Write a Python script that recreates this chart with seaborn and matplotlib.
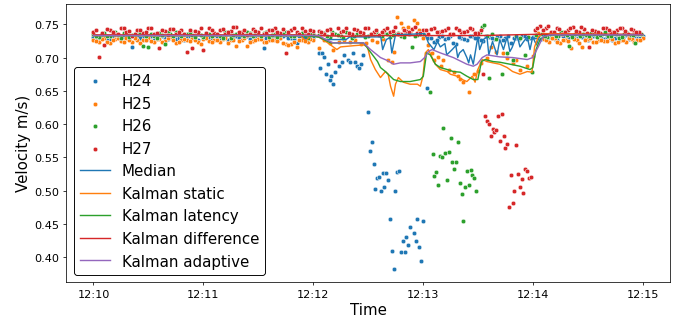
import numpy as np
import pandas as pd
import matplotlib
matplotlib.use("Agg")
import matplotlib.pyplot as plt
import matplotlib.dates as mdates
import seaborn as sns

# ---------------- data (seconds after 12:10:00, velocity m/s) ----------------
sensors = ["H24", "H25", "H26", "H27"]
line_names = ["Median", "Kalman static", "Kalman latency", "Kalman difference", "Kalman adaptive"]
x_ticks = ["12:10", "12:11", "12:12", "12:13", "12:14", "12:15"]

# H24
h24_a_v = [0.731, 0.729, 0.733, 0.728, 0.732, 0.730, 0.734, 0.716, 0.731, 0.729,
           0.733, 0.727, 0.732, 0.730, 0.735, 0.728, 0.731, 0.729, 0.733, 0.726,
           0.732, 0.730, 0.734, 0.729, 0.731, 0.728, 0.733, 0.730, 0.732, 0.731,
           0.730, 0.715, 0.728, 0.731, 0.729, 0.734, 0.730, 0.722, 0.731, 0.728, 0.730]
h24_a2_v = [0.730, 0.732, 0.727, 0.733, 0.729, 0.731, 0.728, 0.734, 0.730, 0.726,
            0.732, 0.729, 0.733, 0.728, 0.731, 0.730, 0.727, 0.732, 0.729, 0.734,
            0.731, 0.728, 0.730, 0.733, 0.726, 0.731, 0.729, 0.732, 0.728, 0.730,
            0.733, 0.729, 0.731, 0.727, 0.732, 0.730, 0.728, 0.733, 0.729, 0.731]
h24_b_t = [123, 124, 125, 126, 127, 128, 129, 130, 131, 132, 134, 136, 137, 139, 140,
           142, 143, 144, 145, 146, 147,
           150, 151, 152, 153, 154, 155, 156, 157, 158, 159, 160, 161, 162, 163, 164,
           165, 166, 167, 168, 169, 170, 171, 172, 173, 175, 176, 177, 178, 179, 180, 182]
h24_b_v = [0.7075, 0.685, 0.7075, 0.7015, 0.676, 0.690, 0.667, 0.673, 0.660, 0.679,
           0.687, 0.693, 0.704, 0.696, 0.693, 0.7075, 0.694, 0.687, 0.685, 0.691, 0.704,
           0.618, 0.560, 0.573, 0.540, 0.502, 0.519, 0.521, 0.500, 0.527, 0.506, 0.527,
           0.516, 0.457, 0.409, 0.382, 0.499, 0.528, 0.530, 0.408, 0.424, 0.408, 0.431,
           0.418, 0.445, 0.436, 0.425, 0.458, 0.415, 0.394, 0.454, 0.654]
h24_c_v = [0.729, 0.724, 0.731, 0.728, 0.733, 0.720, 0.730, 0.727, 0.732, 0.729,
           0.725, 0.731, 0.728, 0.733, 0.730, 0.722, 0.729, 0.732, 0.728, 0.731,
           0.733, 0.729, 0.731, 0.728, 0.734, 0.730, 0.732, 0.729, 0.731, 0.727,
           0.733, 0.730, 0.728, 0.732, 0.729, 0.731, 0.734, 0.728, 0.730, 0.732]
h24_c2_v = [0.730, 0.727, 0.732, 0.729, 0.722, 0.731, 0.728, 0.733, 0.730, 0.726,
            0.732, 0.729, 0.731, 0.727, 0.733, 0.730, 0.728, 0.732, 0.729, 0.731,
            0.728, 0.733, 0.730, 0.727, 0.732, 0.729, 0.731, 0.734, 0.728, 0.730,
            0.732, 0.729, 0.731, 0.727, 0.733, 0.730, 0.728, 0.732, 0.729]

# H25
h25_a_v = [0.727, 0.724, 0.729, 0.722, 0.728, 0.725, 0.730, 0.723, 0.727, 0.726,
           0.729, 0.724, 0.728, 0.725, 0.731, 0.722, 0.727, 0.726, 0.729, 0.724,
           0.728, 0.725, 0.727, 0.723, 0.729, 0.726, 0.718, 0.727, 0.717, 0.725,
           0.728, 0.724, 0.727, 0.726, 0.729, 0.721, 0.720, 0.716, 0.726, 0.724, 0.727]
h25_a2_v = [0.725, 0.728, 0.723, 0.727, 0.730, 0.724, 0.726, 0.729, 0.722, 0.727,
            0.725, 0.728, 0.724, 0.730, 0.726, 0.723, 0.728, 0.725, 0.727, 0.721,
            0.729, 0.724, 0.726, 0.728, 0.722, 0.727, 0.725, 0.729, 0.723, 0.726,
            0.728, 0.724, 0.727, 0.725, 0.722, 0.719, 0.724, 0.727, 0.725, 0.728]
h25_b_t = [123, 126, 129, 131, 134, 137, 140, 143, 146, 149, 152, 155, 158, 161, 163,
           164, 166, 168, 169, 171, 172, 173, 175, 177, 178, 180,
           183, 185, 186, 188, 190, 191, 194, 197, 199, 200, 202, 205, 208, 210, 212,
           215, 217, 220, 224, 226, 229, 231, 233, 237, 240, 243]
h25_b_v = [0.715, 0.726, 0.722, 0.712, 0.724, 0.727, 0.723, 0.726, 0.720, 0.722,
           0.727, 0.724, 0.728, 0.697, 0.694, 0.709, 0.761, 0.752, 0.745, 0.737,
           0.746, 0.739, 0.757, 0.752, 0.742, 0.730,
           0.719, 0.707, 0.697, 0.701, 0.687, 0.697, 0.682, 0.679, 0.672, 0.668,
           0.664, 0.649, 0.675, 0.680, 0.692, 0.700, 0.716, 0.709, 0.707, 0.700,
           0.692, 0.697, 0.682, 0.687, 0.702, 0.737]
h25_c_v = [0.728, 0.724, 0.729, 0.722, 0.727, 0.715, 0.726, 0.716, 0.728, 0.723,
           0.727, 0.725, 0.729, 0.722, 0.727, 0.724, 0.728, 0.726, 0.729]
h25_c2_v = [0.726, 0.729, 0.723, 0.727, 0.725, 0.728, 0.722, 0.726, 0.729, 0.724,
            0.727, 0.725, 0.728, 0.723, 0.726, 0.729, 0.724, 0.727]

# H26
h26_a_v = [0.735, 0.731, 0.737, 0.733, 0.739, 0.730, 0.736, 0.734, 0.738, 0.718,
           0.716, 0.733, 0.737, 0.721, 0.735, 0.739, 0.732, 0.736, 0.734, 0.738,
           0.731, 0.735, 0.737, 0.733, 0.739, 0.730, 0.736, 0.734, 0.738, 0.732,
           0.735, 0.737, 0.731, 0.736, 0.734, 0.739, 0.733, 0.735, 0.737, 0.730, 0.736]
h26_a2_v = [0.733, 0.736, 0.732, 0.738, 0.734, 0.737, 0.731, 0.735, 0.739, 0.733,
            0.736, 0.730, 0.734, 0.738, 0.732, 0.736, 0.735, 0.739, 0.731, 0.734,
            0.737, 0.733, 0.736, 0.730, 0.738, 0.734, 0.735, 0.732, 0.737, 0.736,
            0.733, 0.739, 0.734, 0.731, 0.736, 0.738, 0.732, 0.735, 0.733, 0.737]
h26_b_v = [0.734, 0.737, 0.731, 0.736, 0.733, 0.738, 0.730, 0.735, 0.737, 0.732,
           0.736, 0.734, 0.739, 0.731, 0.735, 0.733, 0.737, 0.716, 0.734, 0.736]
h26_b2_v = [0.736, 0.732, 0.738, 0.734, 0.730, 0.737, 0.733, 0.736, 0.731, 0.735,
            0.738, 0.732, 0.736, 0.734, 0.737, 0.731, 0.735, 0.733, 0.736]
h26_c_t = [184, 185.7, 186.2, 187.3, 188.4, 189.5, 190.6, 191.1, 192.2, 193.3, 194.4,
           195.5, 196, 197.1, 198.2, 199.3, 200.4, 201.5, 202, 203.1, 204.2, 205.3,
           206.4, 206.9, 208, 209.1,
           211.3, 212.4, 213.4, 215, 216.2, 218, 220, 223.2, 226, 229.2, 231, 233,
           235.8, 237.5, 239.6, 242]
h26_c_v = [0.648, 0.555, 0.522, 0.528, 0.509, 0.552, 0.550, 0.594, 0.557, 0.516, 0.558,
           0.579, 0.543, 0.533, 0.543, 0.573, 0.512, 0.495, 0.455, 0.506, 0.530, 0.508,
           0.531, 0.524, 0.519, 0.500,
           0.739, 0.746, 0.749, 0.733, 0.669, 0.735, 0.728, 0.675, 0.707, 0.697, 0.733,
           0.729, 0.704, 0.731, 0.679, 0.734]
h26_d_v = [0.735, 0.731, 0.737, 0.733, 0.738, 0.718, 0.736, 0.732, 0.734, 0.737,
           0.731, 0.735, 0.733, 0.738, 0.730, 0.736, 0.734, 0.722, 0.735]
h26_d2_v = [0.733, 0.736, 0.732, 0.738, 0.734, 0.731, 0.737, 0.735, 0.732, 0.736,
            0.734, 0.739, 0.733, 0.735, 0.731, 0.737, 0.734, 0.736]

# H27
h27_a_v = [0.738, 0.701, 0.719, 0.742, 0.736, 0.744, 0.739, 0.733, 0.741, 0.737,
           0.745, 0.735, 0.715, 0.740, 0.743, 0.736, 0.741, 0.709, 0.715, 0.738,
           0.712, 0.744, 0.737, 0.742, 0.735, 0.740, 0.746, 0.738, 0.734, 0.743,
           0.739, 0.736, 0.741, 0.745, 0.737, 0.707, 0.742, 0.738, 0.744, 0.736, 0.740]
h27_a2_v = [0.741, 0.737, 0.743, 0.739, 0.735, 0.744, 0.740, 0.736, 0.742, 0.738,
            0.745, 0.737, 0.741, 0.734, 0.743, 0.739, 0.736, 0.742, 0.740, 0.744,
            0.737, 0.741, 0.735, 0.743, 0.739, 0.746, 0.738, 0.742, 0.736, 0.740,
            0.744, 0.737, 0.741, 0.739, 0.743, 0.738, 0.745, 0.736, 0.740, 0.742]
h27_b_v = [0.740, 0.736, 0.743, 0.695, 0.738, 0.744, 0.735, 0.741, 0.737, 0.745,
           0.739, 0.734, 0.742, 0.738, 0.746, 0.736, 0.740, 0.743, 0.737, 0.741,
           0.735, 0.744, 0.739, 0.742, 0.736, 0.745, 0.738, 0.740, 0.743, 0.737]
h27_b2_v = [0.738, 0.742, 0.736, 0.744, 0.740, 0.737, 0.743, 0.739, 0.745, 0.736,
            0.741, 0.738, 0.744, 0.740, 0.735, 0.742, 0.739, 0.746, 0.737, 0.741,
            0.743, 0.738, 0.740, 0.744, 0.736, 0.742, 0.739, 0.745, 0.737, 0.741]
h27_c_t = [213, 214, 215, 216.2, 217.3, 218.3, 218.9, 220, 221, 222.2, 223.2, 224.3,
           224.9, 226, 227, 228.1, 229.2, 229.8, 230.9, 232, 233, 234.1, 234.7, 235.8,
           236.9, 238, 239]
h27_c_v = [0.675, 0.613, 0.605, 0.600, 0.582, 0.593, 0.588, 0.592, 0.613, 0.575, 0.615,
           0.582, 0.564, 0.570, 0.476, 0.523, 0.482, 0.499, 0.569, 0.525, 0.506, 0.518,
           0.497, 0.533, 0.530, 0.519, 0.521]
h27_d_v = [0.742, 0.748, 0.745, 0.739, 0.744, 0.736, 0.741, 0.746, 0.738, 0.743,
           0.716, 0.740, 0.737, 0.745, 0.739, 0.742, 0.744, 0.736, 0.741, 0.738]
h27_d2_v = [0.745, 0.741, 0.747, 0.739, 0.743, 0.738, 0.744, 0.740, 0.746, 0.737,
            0.742, 0.739, 0.745, 0.741, 0.738, 0.744, 0.740, 0.743, 0.739]

# fused / filtered lines (vertices)
median_t = [0, 113, 116, 120, 124, 127, 138, 140, 154, 157, 158, 160, 162, 163, 165, 181,
            183, 186, 188, 189.5, 192, 193, 196, 198, 199, 200, 202, 204, 205, 206, 207.5,
            210, 211, 213, 215, 216, 218, 219.5, 220.5, 222, 224, 226, 227.5, 228.7, 231.4,
            233, 235, 237, 238.5, 240, 242, 244, 300]
median_v = [0.733, 0.733, 0.728, 0.733, 0.730, 0.727, 0.727, 0.731, 0.731, 0.731, 0.712,
            0.727, 0.730, 0.707, 0.734, 0.736,
            0.722, 0.712, 0.724, 0.716, 0.721, 0.704, 0.712, 0.718, 0.700, 0.707, 0.712,
            0.700, 0.692, 0.704, 0.690, 0.731, 0.712, 0.727, 0.731, 0.704, 0.724, 0.712,
            0.704, 0.727, 0.712, 0.731, 0.709, 0.715, 0.734, 0.716, 0.724, 0.731, 0.712,
            0.731, 0.719, 0.734, 0.734]
static_t = [0, 113, 116, 119, 123, 127, 131, 133, 135, 143, 147.6, 149.7, 151.4, 154, 156.8,
            159.5, 161, 162.3, 164, 165, 166.6, 169.3, 173, 177, 178.6, 180, 181.3, 183, 185,
            186.8, 189.5, 193.3, 195, 198.7, 201.5, 204, 207, 208.5, 210, 212.4, 215, 218.3,
            222, 226, 229, 233, 237, 239.6, 241, 243, 245.6, 300]
static_v = [0.733, 0.733, 0.725, 0.733, 0.731, 0.724, 0.716, 0.712, 0.716, 0.718, 0.719,
            0.716, 0.697, 0.682, 0.670, 0.679, 0.675, 0.657, 0.642, 0.660, 0.670, 0.663,
            0.660, 0.660, 0.657, 0.672, 0.707, 0.712, 0.700, 0.690, 0.682, 0.679, 0.675,
            0.672, 0.667, 0.664, 0.672, 0.663, 0.682, 0.697, 0.694, 0.692, 0.690, 0.685,
            0.679, 0.675, 0.679, 0.678, 0.716, 0.731, 0.736, 0.734]
latency_t = [0, 113, 123, 129.6, 137.8, 147.6, 150.3, 155.2, 156.8, 159.5, 161, 164, 167.7,
             173, 178.6, 180.2, 182, 184, 186.8, 189.5, 193.3, 196.6, 200.4, 204, 207.5, 210,
             212, 214, 218.3, 222, 227.6, 233, 238.5, 240, 241.8, 244, 247.7, 300]
latency_v = [0.733, 0.733, 0.731, 0.722, 0.722, 0.722, 0.712, 0.694, 0.685, 0.679, 0.675,
             0.667, 0.664, 0.664, 0.667, 0.672, 0.707, 0.704, 0.690, 0.685, 0.682, 0.679,
             0.678, 0.672, 0.667, 0.667, 0.694, 0.697, 0.694, 0.693, 0.690, 0.687, 0.682,
             0.685, 0.712, 0.727, 0.734, 0.734]
difference_t = [0, 113, 124, 138, 157, 184, 211, 244, 300]
difference_v = [0.734, 0.734, 0.733, 0.732, 0.733, 0.733, 0.733, 0.735, 0.735]
adaptive_t = [0, 123, 127, 131, 138, 147.6, 151.4, 156.8, 161, 164, 167.7, 173, 178.6,
              181.3, 183, 185, 189.5, 196.6, 204, 207.5, 209.6, 212.4, 215, 222, 229, 237,
              240, 243, 245.6, 249.4, 300]
adaptive_v = [0.733, 0.733, 0.727, 0.722, 0.722, 0.722, 0.712, 0.700, 0.695, 0.690, 0.692,
              0.692, 0.694, 0.701, 0.709, 0.712, 0.707, 0.700, 0.690, 0.687, 0.690, 0.700,
              0.704, 0.701, 0.700, 0.697, 0.700, 0.716, 0.731, 0.734, 0.734]


# ---------------- assemble ----------------
def grid(t0, vals):
    return t0 + 3 * np.arange(len(vals))


START = pd.Timestamp("2021-06-01 12:10:00")


def to_time(sec):
    return START + pd.to_timedelta(np.asarray(sec, dtype=float), unit="s")


sensor_parts = {
    "H24": [(grid(0, h24_a_v), h24_a_v), (grid(1.5, h24_a2_v), h24_a2_v),
            (h24_b_t, h24_b_v), (grid(183, h24_c_v), h24_c_v),
            (grid(184.5, h24_c2_v), h24_c2_v)],
    "H25": [(grid(0, h25_a_v), h25_a_v), (grid(1.5, h25_a2_v), h25_a2_v),
            (h25_b_t, h25_b_v), (grid(246, h25_c_v), h25_c_v),
            (grid(247.5, h25_c2_v), h25_c2_v)],
    "H26": [(grid(0, h26_a_v), h26_a_v), (grid(1.5, h26_a2_v), h26_a2_v),
            (grid(123, h26_b_v), h26_b_v), (grid(124.5, h26_b2_v), h26_b2_v),
            (h26_c_t, h26_c_v), (grid(245, h26_d_v), h26_d_v),
            (grid(246.5, h26_d2_v), h26_d2_v)],
    "H27": [(grid(0, h27_a_v), h27_a_v), (grid(1.5, h27_a2_v), h27_a2_v),
            (grid(123, h27_b_v), h27_b_v), (grid(124.5, h27_b2_v), h27_b2_v),
            (h27_c_t, h27_c_v), (grid(241, h27_d_v), h27_d_v),
            (grid(242.5, h27_d2_v), h27_d2_v)],
}
lines = {
    "Median": (median_t, median_v),
    "Kalman static": (static_t, static_v),
    "Kalman latency": (latency_t, latency_v),
    "Kalman difference": (difference_t, difference_v),
    "Kalman adaptive": (adaptive_t, adaptive_v),
}

palette = sns.color_palette("tab10")

fig = plt.figure(figsize=(10, 4.8), dpi=67.7)
ax = fig.add_axes([0.0975, 0.129, 0.8922, 0.857])

for i, name in enumerate(sensors):
    t = np.concatenate([np.asarray(p[0], dtype=float) for p in sensor_parts[name]])
    v = np.concatenate([np.asarray(p[1], dtype=float) for p in sensor_parts[name]])
    sns.scatterplot(x=to_time(t), y=v, color=palette[i], s=24, edgecolor="white",
                    linewidth=0.5, label=name, ax=ax, zorder=2)

for i, name in enumerate(line_names):
    t, v = lines[name]
    sns.lineplot(x=to_time(t), y=v, color=palette[i], linewidth=1.5, label=name,
                 estimator=None, ax=ax, zorder=3)

ax.set_xlim(START - pd.Timedelta(seconds=15), START + pd.Timedelta(seconds=315))
ax.set_ylim(0.363, 0.781)
ax.xaxis.set_major_locator(mdates.MinuteLocator())
ax.xaxis.set_major_formatter(mdates.DateFormatter("%H:%M"))
ax.set_yticks(np.arange(0.40, 0.751, 0.05))
ax.tick_params(labelsize=12)
ax.set_xlabel("Time", fontsize=16)
ax.set_ylabel("Velocity m/s)", fontsize=16)

handles, labels = ax.get_legend_handles_labels()
order = sensors + line_names
hl = dict(zip(labels, handles))
ax.legend([hl[k] for k in order], order, loc="lower left", fontsize=16,
          edgecolor="black", framealpha=1, fancybox=True)

fig.savefig("out.png", dpi=67.7)
